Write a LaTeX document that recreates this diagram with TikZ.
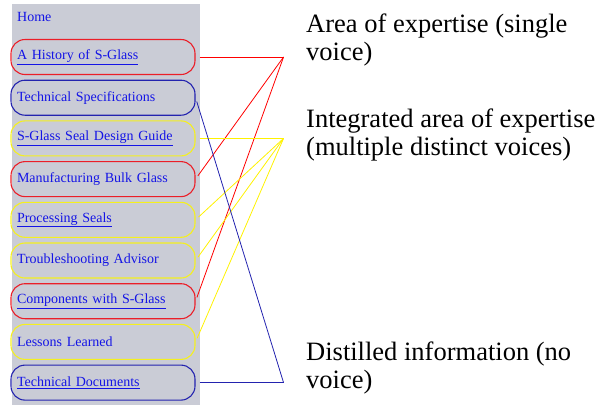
\documentclass[tikz,border=0pt]{standalone}
\usepackage{fontspec}
\setmainfont{Liberation Serif}
\usetikzlibrary{positioning}

\definecolor{panelgray}{RGB}{202,204,214}
\definecolor{navblue}{RGB}{20,20,230}
\definecolor{pillred}{RGB}{235,30,40}
\definecolor{pillblue}{RGB}{35,35,175}
\definecolor{pillyellow}{RGB}{245,240,30}

\tikzset{
    pill/.style={draw, line width=1.1pt, rounded corners=14pt,
        minimum width=184pt, minimum height=35pt, text width=172pt,
        inner xsep=6pt, align=left, text=navblue,
        font=\fontsize{14}{15}\selectfont},
    voice/.style={anchor=base west, inner sep=0pt, align=left,
        font=\fontsize{26.5}{28}\selectfont},
    tie/.style={line width=0.8pt, shorten <=4pt}
}

\begin{document}
\begin{tikzpicture}[x=1pt, y=1pt]
        \useasboundingbox (0,0) rectangle (604,-405);
        \fill[panelgray] (12,-4) rectangle (200,-405);

        % navigation column
        \node[anchor=base west, inner sep=0pt, text=navblue,
            font=\fontsize{14}{15}\selectfont] (home) at (17,-21) {Home};
        \node[pill, draw=pillred] (hist) at (103,-57) {\underline{A History of S-Glass}};
        \node[pill, draw=pillblue, below=4.6pt of hist] (spec) {Technical Specifications};
        \node[pill, draw=pillyellow, below=4.6pt of spec] (guide) {\underline{S-Glass Seal Design Guide}};
        \node[pill, draw=pillred, below=4.6pt of guide] (bulk) {Manufacturing Bulk Glass};
        \node[pill, draw=pillyellow, below=4.6pt of bulk] (seals) {\underline{Processing Seals}};
        \node[pill, draw=pillyellow, below=4.6pt of seals] (advisor) {Troubleshooting Advisor};
        \node[pill, draw=pillred, below=4.6pt of advisor] (comp) {\underline{Components with S-Glass}};
        \node[pill, draw=pillyellow, below=4.6pt of comp] (lessons) {Lessons Learned};
        \node[pill, draw=pillblue, below=4.6pt of lessons] (docs) {\underline{Technical Documents}};

        % meeting points
        \coordinate[right=88pt of hist.east] (singlept);
        \coordinate[right=88pt of guide.east] (integratedpt);
        \coordinate[right=88pt of docs.east] (distilledpt);

        % categories
        \node[voice] (single) at (306,-60) {Area of expertise (single\\voice)};
        \node[voice] (integrated) at (306,-155) {Integrated area of expertise\\(multiple distinct voices)};
        \node[voice] (distilled) at (306,-388) {Distilled information (no\\voice)};

        \draw[tie, red] (hist.east) -- (singlept);
        \draw[tie, red] (bulk.east) -- (singlept);
        \draw[tie, red] (comp.east) -- (singlept);
        \draw[tie, yellow] (guide.east) -- (integratedpt);
        \draw[tie, yellow] (seals.east) -- (integratedpt);
        \draw[tie, yellow] (advisor.east) -- (integratedpt);
        \draw[tie, yellow] (lessons.east) -- (integratedpt);
        \draw[tie, pillblue] (spec.east) -- (distilledpt);
        \draw[tie, pillblue] (docs.east) -- (distilledpt);
    \end{tikzpicture}
\end{document}
